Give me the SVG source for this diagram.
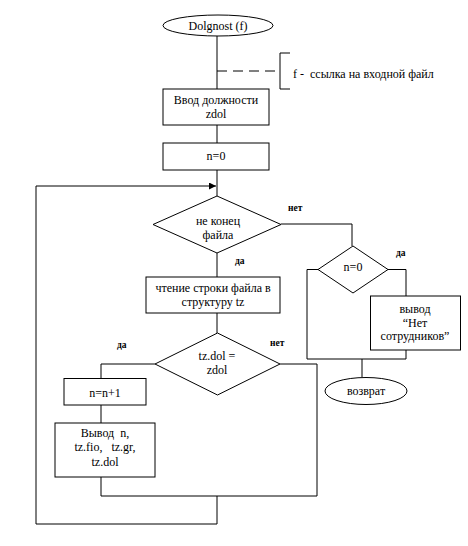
<svg xmlns="http://www.w3.org/2000/svg" width="468" height="546" viewBox="0 0 468 546">
<style>
.s{fill:#fff;stroke:#000;stroke-width:1}
.t{font-family:"Liberation Serif","Times New Roman",serif;font-size:12px;fill:#000;text-anchor:middle}
.l{font-family:"Liberation Serif","Times New Roman",serif;font-size:9.5px;fill:#000;font-weight:bold}
.c{fill:none;stroke:#000;stroke-width:1}
</style>
<defs>
<marker id="ah" markerWidth="8" markerHeight="8" refX="7" refY="3.5" orient="auto" markerUnits="userSpaceOnUse">
<path d="M0,0 L7,3.5 L0,7 Z" fill="#000"/>
</marker>
</defs>
<rect width="468" height="546" fill="#fff"/>
<g id="connectors">
<path class="c" d="M217,36 V89"/>
<path class="c" d="M217,71 H280" stroke-dasharray="10 6"/>
<path class="c" d="M290,53 H280 V89 H290"/>
<path class="c" d="M217,125 V143"/>
<path class="c" d="M217,170 V196"/>
<path class="c" d="M217,253 V277"/>
<path class="c" d="M217,313 V333"/>
<path class="c" d="M281,224 H352 V246"/>
<path class="c" d="M388,269.5 H406 V296"/>
<path class="c" d="M318,269.5 H307 V359 H406 V350"/>
<path class="c" d="M362,359 V377"/>
<path class="c" d="M155,364 H101 V378.5"/>
<path class="c" d="M101,405 V423"/>
<path class="c" d="M101,477 V496 H317 V364 H280"/>
<path class="c" d="M217,496 V524 H36 V186 H216" marker-end="url(#ah)"/>
</g>
<g id="start">
<ellipse class="s" cx="218" cy="25.5" rx="55" ry="10.5"/>
<text class="t" x="218" y="29.5">Dolgnost (f)</text>
</g>
<g id="note">
<text class="t" x="293" y="78" style="text-anchor:start" xml:space="preserve">f -  ссылка на входной файл</text>
</g>
<g id="input">
<rect class="s" x="163" y="89" width="106" height="36"/>
<text class="t" x="216" y="104">Ввод должности</text>
<text class="t" x="216" y="118">zdol</text>
</g>
<g id="init">
<rect class="s" x="163" y="143" width="106" height="27"/>
<text class="t" x="216" y="160">n=0</text>
</g>
<g id="eof">
<path class="s" d="M217,196 L281,224.5 L217,253 L153,224.5 Z"/>
<text class="t" x="218" y="224.5">не конец</text>
<text class="t" x="218" y="238.5">файла</text>
<text class="l" x="288" y="211">нет</text>
<text class="l" x="235" y="264">да</text>
</g>
<g id="read">
<rect class="s" x="146" y="277" width="134" height="36"/>
<text class="t" x="213" y="292">чтение строки файла в</text>
<text class="t" x="213" y="306">структуру tz</text>
</g>
<g id="cmp">
<path class="s" d="M217.5,333 L280,364 L217.5,395 L155,364 Z"/>
<text class="t" x="217" y="360">tz.dol =</text>
<text class="t" x="217" y="374">zdol</text>
<text class="l" x="117" y="348">да</text>
<text class="l" x="270" y="346">нет</text>
</g>
<g id="inc">
<rect class="s" x="64" y="378.5" width="82" height="26.5"/>
<text class="t" x="105" y="397">n=n+1</text>
</g>
<g id="output">
<rect class="s" x="55" y="423" width="100" height="54"/>
<text class="t" x="105" y="437" xml:space="preserve">Вывод  n,</text>
<text class="t" x="105" y="451" xml:space="preserve">tz.fio,   tz.gr,</text>
<text class="t" x="105" y="466">tz.dol</text>
</g>
<g id="zero">
<path class="s" d="M353,246 L388,269.5 L353,293 L318,269.5 Z"/>
<text class="t" x="353" y="271">n=0</text>
<text class="l" x="396" y="256">да</text>
</g>
<g id="none">
<rect class="s" x="370.5" y="296" width="90" height="54"/>
<text class="t" x="415" y="313">вывод</text>
<text class="t" x="415" y="326.5">“Нет</text>
<text class="t" x="415" y="340">сотрудников”</text>
</g>
<g id="end">
<ellipse class="s" cx="366" cy="391" rx="41" ry="13.5"/>
<text class="t" x="366" y="395">возврат</text>
</g>
</svg>
